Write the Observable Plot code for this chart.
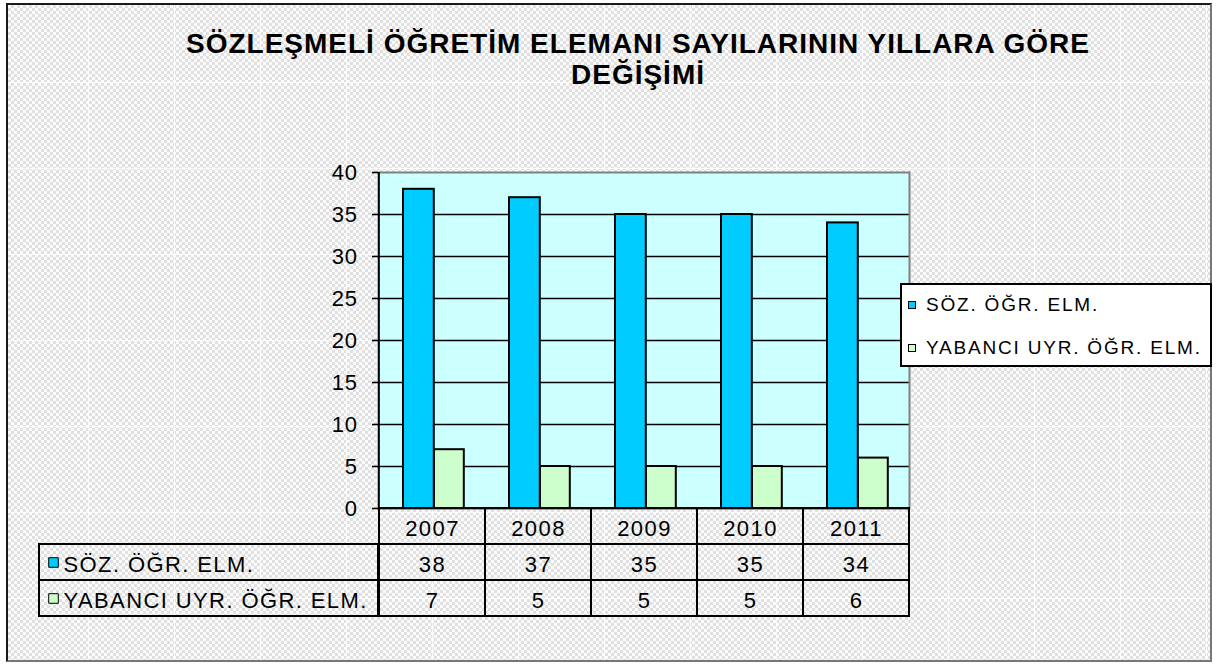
<!DOCTYPE html>
<html><head><meta charset="utf-8">
<script src="https://cdn.jsdelivr.net/npm/d3@7"></script>
<script src="https://cdn.jsdelivr.net/npm/@observablehq/plot@0.6"></script>
<style>
html,body{margin:0;padding:0;}
body{width:1218px;height:664px;position:relative;overflow:hidden;background:#fff;font-family:"Liberation Sans",Arial,sans-serif;}
#bg{position:absolute;left:6px;top:3px;width:1206px;height:659px;box-sizing:border-box;border:2px solid #1a1a1a;border-right-color:#777;border-bottom-color:#777;
background-color:#f2f2f2;
background-image:linear-gradient(90deg,rgba(255,255,255,0.8) 1px,transparent 1px),linear-gradient(0deg,rgba(255,255,255,0.8) 1px,transparent 1px),repeating-conic-gradient(#e0e0e0 0 25%,#fbfbfb 0 50%);
background-size:86px 86px,86px 86px,6px 6px;background-position:-6px 0,0 -8px,0 0;}
#title{position:absolute;left:138px;width:1000px;top:28px;text-align:center;font-weight:bold;font-size:28px;line-height:31px;letter-spacing:1px;white-space:nowrap;color:#000;}
#chart,#table{position:absolute;left:0;}
#chart{top:0;} #table{top:508px;}
svg{overflow:visible;}
#chart text{letter-spacing:0.6px;}
#table text{letter-spacing:1.4px;}
#legend{position:absolute;left:900px;top:283px;width:312px;height:84px;box-sizing:border-box;border:2px solid #000;background:#fff;}
#legend .item{position:absolute;left:6px;height:24px;display:flex;align-items:center;font-size:19px;letter-spacing:1.8px;white-space:nowrap;color:#000;}
#legend .sw{width:6px;height:6px;border:1px solid #000;margin-right:10px;}
</style>
</head><body>
<div id="bg"></div>
<div id="title"></div>
<div id="chart"></div>
<div id="table"></div>
<div id="legend"></div>
<script>
const titleLines = ["SÖZLEŞMELİ ÖĞRETİM ELEMANI SAYILARININ YILLARA GÖRE", "DEĞİŞİMİ"];
const years = ["2007", "2008", "2009", "2010", "2011"];
const sozValues = [38, 37, 35, 35, 34];
const yabanciValues = [7, 5, 5, 5, 6];
const seriesNames = ["SÖZ. ÖĞR. ELM.", "YABANCI UYR. ÖĞR. ELM."];
const seriesColors = ["#00CCFF", "#CCFFCC"];
const yTicks = [0, 5, 10, 15, 20, 25, 30, 35, 40];
const rowKeys = ["year", "s", "y"];

// title
const t = document.getElementById("title");
titleLines.forEach((line, i) => { if (i) t.appendChild(document.createElement("br")); t.appendChild(document.createTextNode(line)); });

const W = 1218, H = 664, mL = 378, mR = 309, mT = 172, mB = 156;
const bw = (W - mL - mR) / years.length;
const font = "'Liberation Sans', Arial, sans-serif";

const soz = years.map((year, i) => ({year, value: sozValues[i]}));
const yab = years.map((year, i) => ({year, value: yabanciValues[i]}));

const chart = Plot.plot({
  width: W, height: H, marginLeft: mL, marginRight: mR, marginTop: mT, marginBottom: mB,
  style: {background: "transparent", fontFamily: font, fontSize: "22px", color: "#000", overflow: "visible"},
  x: {type: "band", domain: years, padding: 0, axis: null},
  y: {domain: [0, 40], label: null},
  marks: [
    Plot.frame({fill: "#CCFFFF"}),
    Plot.ruleY(yTicks.filter(d => d < 40), {stroke: "#000", strokeWidth: 1.6}),
    Plot.frame({stroke: "#808080", strokeWidth: 2}),
    Plot.barY(years.slice(0, 1), {x: d => d, y1: 0, y2: 40, fill: "#000", insetLeft: -1, insetRight: bw - 1}),
    Plot.barY(soz, {x: "year", y: "value", fill: seriesColors[0], stroke: "#000", strokeWidth: 2, insetLeft: 24, insetRight: bw - 55}),
    Plot.barY(yab, {x: "year", y: "value", fill: seriesColors[1], stroke: "#000", strokeWidth: 2, insetLeft: 55, insetRight: bw - 85}),
    Plot.axisY({ticks: yTicks, tickSize: 6, tickPadding: 15, fontSize: 22, strokeWidth: 1.6, label: null})
  ]
});
document.getElementById("chart").appendChild(chart);

// data table
const tableCells = [];
years.forEach((yr, i) => {
  tableCells.push({year: yr, row: "year", text: yr});
  tableCells.push({year: yr, row: "s", text: String(sozValues[i])});
  tableCells.push({year: yr, row: "y", text: String(yabanciValues[i])});
});
const labelRows = [
  {row: "s", label: seriesNames[0], color: seriesColors[0]},
  {row: "y", label: seriesNames[1], color: seriesColors[1]}
];
const table = Plot.plot({
  width: W, height: 108, marginLeft: mL, marginRight: mR, marginTop: 0, marginBottom: 0,
  style: {background: "transparent", fontFamily: font, fontSize: "22px", color: "#000", overflow: "visible"},
  x: {type: "band", domain: years, padding: 0, axis: null},
  y: {type: "band", domain: rowKeys, padding: 0, axis: null},
  color: {type: "identity"},
  marks: [
    Plot.cell(tableCells, {x: "year", y: "row", fill: "none", stroke: "#000", strokeWidth: 2}),
    Plot.cell(labelRows, {y: "row", fill: "none", stroke: "#000", strokeWidth: 2, insetLeft: -(mL - 39), insetRight: W - mL - mR}),
    Plot.text(tableCells, {x: "year", y: "row", text: "text", fontSize: 22, dy: 2}),
    Plot.dot(labelRows, {y: "row", frameAnchor: "left", dx: 53 - mL, symbol: "square", r: 5.4, fill: "color", stroke: "#000", strokeWidth: 1}),
    Plot.text(labelRows, {y: "row", frameAnchor: "left", dx: 63 - mL, text: "label", textAnchor: "start", fontSize: 22, dy: 2})
  ]
});
document.getElementById("table").appendChild(table);

// legend
const lg = document.getElementById("legend");
seriesNames.forEach((name, i) => {
  const it = document.createElement("div");
  it.className = "item";
  it.style.top = (8 + i * 43) + "px";
  const sw = document.createElement("span");
  sw.className = "sw";
  sw.style.background = seriesColors[i];
  it.appendChild(sw);
  it.appendChild(document.createTextNode(name));
  lg.appendChild(it);
});
</script>
</body></html>
